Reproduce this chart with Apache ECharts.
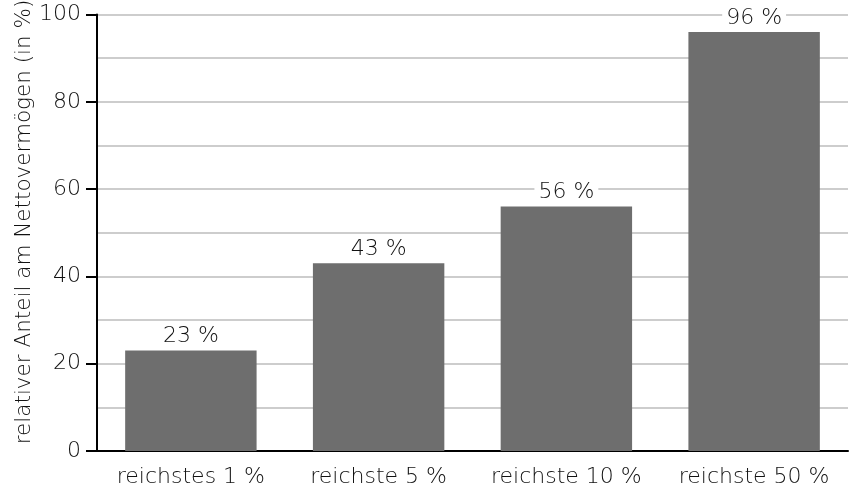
<!DOCTYPE html>
<html>
<head>
<meta charset="utf-8">
<script src="https://cdn.jsdelivr.net/npm/echarts@6/dist/echarts.min.js"></script>
<style>
  html, body { margin: 0; padding: 0; background: #fff; }
  #chart { width: 850px; height: 493px; }
</style>
</head>
<body>
<div id="chart"></div>
<script>
// Anteil am Nettovermögen nach Vermögensgruppe
var categories = ['reichstes 1 %', 'reichste 5 %', 'reichste 10 %', 'reichste 50 %'];
var shares = [23, 43, 56, 96];
var yAxisTitle = 'relativer Anteil am Nettovermögen (in %)';

var FONT = '"DejaVu Sans", sans-serif';
var WEIGHT = 300;
var TEXT = '#111111';

var chart = echarts.init(document.getElementById('chart'), null, { renderer: 'canvas' });

chart.setOption({
  animation: false,
  backgroundColor: '#ffffff',
  grid: { left: 97, right: 2, top: 14.5, bottom: 42, containLabel: false },
  xAxis: {
    type: 'category',
    data: categories,
    axisLine: { show: true, lineStyle: { color: '#000', width: 2 } },
    axisTick: { show: false },
    axisLabel: {
      interval: 0,
      hideOverlap: false,
      color: TEXT, fontFamily: FONT, fontWeight: WEIGHT, fontSize: 22, margin: 15
    }
  },
  yAxis: {
    type: 'value',
    min: 0,
    max: 100,
    interval: 20,
    axisLine: { show: true, lineStyle: { color: '#000', width: 2 } },
    axisTick: { show: true, length: 11, lineStyle: { color: '#000', width: 2 } },
    axisLabel: { color: TEXT, fontFamily: FONT, fontWeight: WEIGHT, fontSize: 22, margin: 16 },
    splitLine: { show: true, lineStyle: { color: '#bdbdbd', width: 1.5 } },
    minorTick: { show: false, splitNumber: 2 },
    minorSplitLine: { show: true, lineStyle: { color: '#bdbdbd', width: 1.5 } }
  },
  graphic: [{
    type: 'text',
    x: 24,
    y: 222,
    rotation: Math.PI / 2,
    style: {
      text: yAxisTitle,
      fill: TEXT,
      font: WEIGHT + ' 21.5px ' + FONT,
      textAlign: 'center',
      textVerticalAlign: 'middle'
    }
  }],
  series: [{
    type: 'bar',
    data: shares,
    barCategoryGap: '30%',
    itemStyle: { color: '#6e6e6e' },
    label: {
      show: true,
      position: 'top',
      distance: 3,
      formatter: '{c} %',
      color: TEXT,
      fontFamily: FONT,
      fontWeight: WEIGHT,
      fontSize: 22,
      backgroundColor: '#ffffff',
      padding: [0, 4, 0, 4]
    }
  }]
});
</script>
</body>
</html>
